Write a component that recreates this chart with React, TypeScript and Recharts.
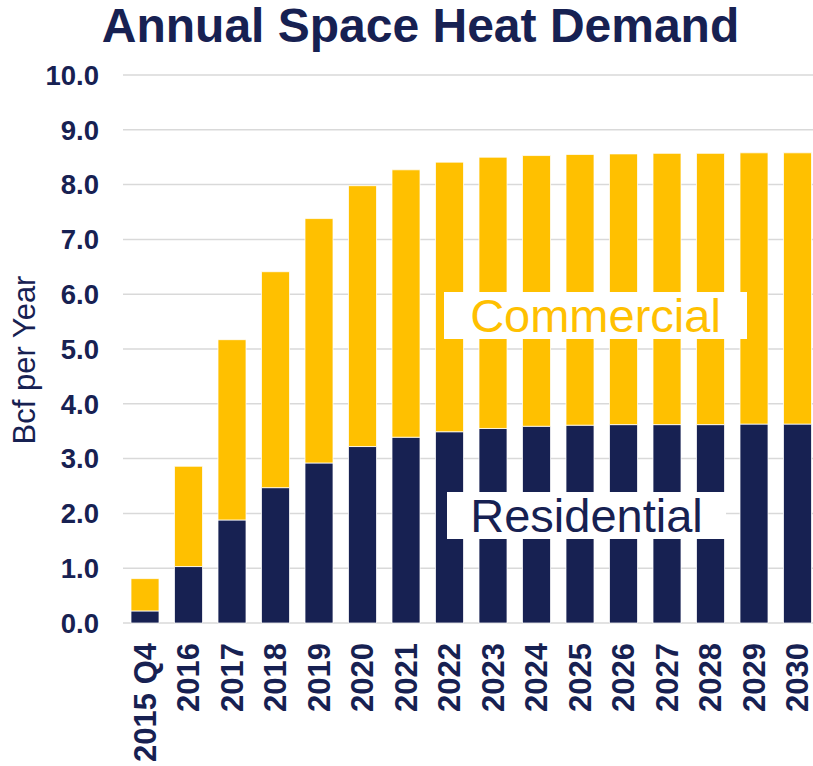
import { BarChart, Bar, XAxis, YAxis, CartesianGrid, Label } from "recharts"

const years = [
  "2015 Q4", "2016", "2017", "2018", "2019", "2020", "2021", "2022",
  "2023", "2024", "2025", "2026", "2027", "2028", "2029", "2030",
]
const residential = [0.22, 1.03, 1.88, 2.47, 2.92, 3.22, 3.39, 3.49, 3.55, 3.59, 3.61, 3.62, 3.62, 3.62, 3.63, 3.63]
const commercial = [0.59, 1.83, 3.29, 3.94, 4.46, 4.76, 4.88, 4.92, 4.95, 4.94, 4.94, 4.94, 4.95, 4.95, 4.95, 4.95]
const yTicks = [0, 1, 2, 3, 4, 5, 6, 7, 8, 9, 10]

const NAVY = "#172152"
const GOLD = "#FFC000"
const FONT = "'Liberation Sans', Arial, sans-serif"

const chartData = years.map((year, i) => ({
  year,
  residential: residential[i],
  commercial: commercial[i],
}))

function YearTick(props: any) {
  const { x, y, payload } = props
  return (
    <text
      x={x}
      y={y}
      transform={`rotate(-90 ${x} ${y})`}
      textAnchor="end"
      dy="0.36em"
      fill={NAVY}
      fontSize={31}
      fontWeight="bold"
      fontFamily={FONT}
    >
      {payload.value}
    </text>
  )
}

function AxisTitle() {
  return (
    <text
      x={24}
      y={360}
      transform="rotate(-90 24 360)"
      textAnchor="middle"
      dy="0.36em"
      fill={NAVY}
      fontSize={31}
      fontFamily={FONT}
    >
      Bcf per Year
    </text>
  )
}

const boxStyle = {
  position: "absolute" as const,
  background: "#FFFFFF",
  height: 47,
  lineHeight: "47px",
  fontSize: 47,
  fontFamily: FONT,
  textAlign: "center" as const,
}

export default function App() {
  return (
    <div style={{ position: "absolute", top: 0, left: 0, width: 813, height: 766, overflow: "hidden", background: "#fff" }}>
      <div
        style={{
          position: "absolute",
          top: 2,
          left: 0,
          width: 841,
          textAlign: "center",
          fontFamily: FONT,
          fontWeight: "bold",
          fontSize: 48,
          lineHeight: "48px",
          color: NAVY,
        }}
      >
        Annual Space Heat Demand
      </div>
      <BarChart
        width={822}
        height={766}
        data={chartData}
        margin={{ top: 75, right: 3, bottom: 0, left: 0 }}
        barSize={28}
      >
        <CartesianGrid vertical={false} stroke="#D9D9D9" strokeWidth={1.5} />
        <XAxis
          dataKey="year"
          height={143}
          axisLine={false}
          tickLine={false}
          tickSize={0}
          tickMargin={20}
          interval={0}
          tick={<YearTick />}
        />
        <YAxis
          width={123}
          domain={[0, 10]}
          ticks={yTicks}
          axisLine={false}
          tickLine={false}
          tickSize={0}
          tickMargin={24}
          tickFormatter={(v: number) => v.toFixed(1)}
          tick={{ fill: NAVY, fontSize: 27.5, fontWeight: "bold", fontFamily: FONT }}
        >
          <Label content={<AxisTitle />} />
        </YAxis>
        <Bar dataKey="residential" stackId="a" fill={NAVY} stroke="#FFFFFF" strokeWidth={0.75} isAnimationActive={false} />
        <Bar dataKey="commercial" stackId="a" fill={GOLD} stroke="#FFFFFF" strokeWidth={0.75} isAnimationActive={false} />
      </BarChart>
      <div style={{ ...boxStyle, left: 444, top: 292, width: 303, color: GOLD }}>Commercial</div>
      <div style={{ ...boxStyle, left: 447, top: 492, width: 279, color: NAVY }}>Residential</div>
    </div>
  )
}
